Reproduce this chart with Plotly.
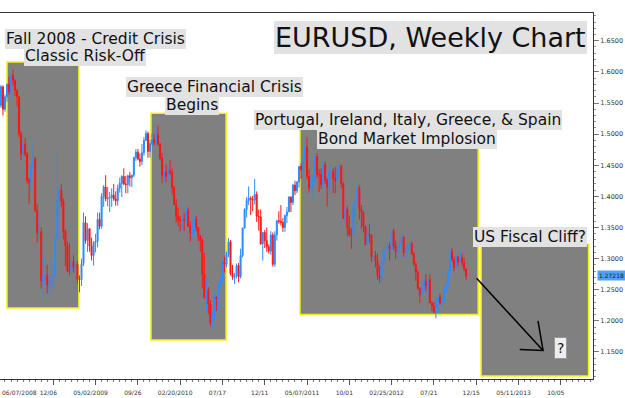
import plotly.graph_objects as go

# ---------------- data (weekly EURUSD) ----------------
first_open = 1.546
closes = [
    1.576,1.540,1.560,1.580,1.568,1.594,1.586,1.570,1.560,1.500,
    1.468,1.484,1.468,1.426,1.423,1.448,1.461,1.377,1.341,1.343,
    1.264,1.272,1.273,1.258,1.259,1.270,1.272,1.332,1.395,1.410,
    1.392,1.344,1.321,1.281,1.280,1.295,1.286,1.291,1.267,1.266,
    1.292,1.358,1.329,1.348,1.320,1.305,1.326,1.328,1.363,1.352,
    1.400,1.415,1.396,1.398,1.398,1.402,1.396,1.393,1.413,1.421,
    1.432,1.420,1.419,1.433,1.430,1.434,1.462,1.471,1.460,1.456,
    1.470,1.490,1.501,1.472,1.485,1.491,1.486,1.499,1.484,1.461,
    1.434,1.439,1.432,1.441,1.438,1.414,1.387,1.368,1.362,1.361,
    1.363,1.362,1.377,1.352,1.341,1.357,1.363,1.350,1.336,1.329,
    1.275,1.239,1.249,1.227,1.197,1.210,1.238,1.236,1.256,1.264,
    1.294,1.291,1.306,1.327,1.276,1.270,1.272,1.289,1.271,1.305,
    1.349,1.379,1.393,1.397,1.395,1.394,1.403,1.368,1.367,1.324,
    1.342,1.329,1.319,1.312,1.338,1.291,1.338,1.361,1.360,1.358,
    1.350,1.369,1.375,1.399,1.390,1.418,1.409,1.423,1.448,1.443,
    1.459,1.480,1.432,1.413,1.415,1.426,1.464,1.435,1.435,1.419,
    1.451,1.426,1.415,1.438,1.440,1.428,1.425,1.439,1.449,1.420,
    1.365,1.379,1.350,1.339,1.339,1.386,1.390,1.414,1.379,1.375,
    1.352,1.323,1.339,1.338,1.303,1.305,1.296,1.272,1.268,1.293,
    1.314,1.315,1.320,1.315,1.345,1.320,1.311,1.317,1.326,1.334,
    1.309,1.316,1.322,1.324,1.308,1.291,1.278,1.252,1.242,1.251,
    1.264,1.257,1.266,1.229,1.224,1.215,1.232,1.238,1.229,1.233,
    1.252,1.258,1.281,1.312,1.298,1.286,1.303,1.295,1.302,1.294,
    1.283,1.272,
]
highs = [
    1.579,1.578,1.564,1.581,1.592,1.596,1.604,1.588,1.572,1.560,
    1.505,1.490,1.494,1.472,1.430,1.450,1.487,1.463,1.388,1.372,
    1.350,1.330,1.300,1.290,1.273,1.300,1.290,1.340,1.472,1.416,
    1.420,1.397,1.347,1.328,1.325,1.300,1.305,1.295,1.296,1.273,
    1.300,1.374,1.368,1.357,1.349,1.334,1.328,1.340,1.374,1.374,
    1.405,1.418,1.434,1.415,1.407,1.413,1.420,1.408,1.419,1.430,
    1.434,1.445,1.433,1.435,1.439,1.435,1.464,1.476,1.476,1.469,
    1.484,1.495,1.506,1.504,1.491,1.501,1.501,1.514,1.514,1.486,
    1.470,1.442,1.451,1.450,1.458,1.445,1.417,1.396,1.382,1.369,
    1.369,1.373,1.383,1.382,1.360,1.358,1.369,1.369,1.351,1.338,
    1.333,1.309,1.267,1.254,1.233,1.216,1.244,1.239,1.259,1.269,
    1.299,1.303,1.311,1.333,1.330,1.290,1.277,1.292,1.293,1.316,
    1.350,1.381,1.399,1.416,1.400,1.401,1.428,1.408,1.379,1.379,
    1.343,1.346,1.350,1.323,1.344,1.342,1.344,1.362,1.376,1.386,
    1.365,1.371,1.383,1.400,1.400,1.420,1.425,1.425,1.449,1.453,
    1.465,1.488,1.494,1.444,1.434,1.434,1.465,1.470,1.444,1.445,
    1.458,1.456,1.429,1.444,1.453,1.445,1.448,1.447,1.455,1.449,
    1.423,1.383,1.385,1.369,1.349,1.390,1.394,1.425,1.418,1.386,
    1.376,1.353,1.355,1.355,1.339,1.313,1.312,1.308,1.288,1.298,
    1.314,1.323,1.332,1.326,1.346,1.348,1.329,1.318,1.330,1.338,
    1.336,1.321,1.323,1.327,1.328,1.310,1.295,1.282,1.254,1.262,
    1.267,1.275,1.269,1.275,1.231,1.230,1.239,1.239,1.244,1.239,
    1.256,1.264,1.282,1.317,1.317,1.303,1.305,1.303,1.314,1.308,
    1.301,1.284,
]
lows = [
    1.542,1.530,1.536,1.552,1.563,1.562,1.578,1.561,1.545,1.495,
    1.458,1.461,1.464,1.420,1.388,1.408,1.440,1.376,1.326,1.329,
    1.252,1.233,1.254,1.244,1.242,1.252,1.245,1.270,1.330,1.376,
    1.383,1.331,1.288,1.278,1.273,1.274,1.278,1.251,1.260,1.246,
    1.256,1.288,1.324,1.311,1.311,1.297,1.289,1.310,1.318,1.347,
    1.348,1.383,1.392,1.384,1.375,1.383,1.393,1.385,1.385,1.406,
    1.399,1.418,1.405,1.405,1.416,1.415,1.431,1.457,1.458,1.448,
    1.450,1.465,1.489,1.462,1.462,1.482,1.482,1.483,1.481,1.458,
    1.421,1.421,1.423,1.426,1.435,1.403,1.386,1.358,1.352,1.344,
    1.345,1.344,1.358,1.351,1.327,1.333,1.339,1.344,1.328,1.311,
    1.252,1.235,1.214,1.211,1.192,1.188,1.202,1.216,1.216,1.252,
    1.262,1.278,1.286,1.302,1.273,1.266,1.259,1.268,1.262,1.268,
    1.302,1.348,1.366,1.386,1.370,1.376,1.387,1.359,1.345,1.322,
    1.297,1.317,1.311,1.308,1.306,1.287,1.287,1.329,1.356,1.353,
    1.343,1.343,1.357,1.375,1.375,1.386,1.402,1.405,1.414,1.428,
    1.432,1.456,1.428,1.406,1.410,1.397,1.420,1.430,1.407,1.412,
    1.412,1.420,1.384,1.405,1.425,1.405,1.405,1.425,1.428,1.414,
    1.364,1.350,1.336,1.335,1.315,1.335,1.365,1.386,1.363,1.348,
    1.342,1.321,1.322,1.326,1.295,1.295,1.286,1.266,1.262,1.262,
    1.290,1.298,1.307,1.297,1.314,1.314,1.300,1.302,1.309,1.320,
    1.303,1.300,1.300,1.312,1.306,1.288,1.264,1.250,1.229,1.241,
    1.247,1.249,1.241,1.229,1.216,1.212,1.204,1.213,1.226,1.224,
    1.231,1.245,1.256,1.274,1.295,1.280,1.282,1.288,1.295,1.288,
    1.280,1.266,
]
opens = [first_open] + closes[:-1]
weeks = list(range(len(closes)))

x_tick_weeks = [26, 47, 68, 89, 110, 131, 152, 173, 194, 215, 236, 257, 278]
x_tick_labels = ["12/06", "05/02/2009", "09/26", "02/20/2010", "07/17", "12/11",
                 "05/07/2011", "10/01", "02/25/2012", "07/21", "12/15",
                 "05/11/2013", "10/05"]
first_label = "06/07/2008"
y_ticks = [1.15, 1.20, 1.25, 1.30, 1.35, 1.40, 1.45, 1.50, 1.55, 1.60, 1.65]
last_price = 1.27218

# shaded event zones: (week0, week1, price_low, price_high)
zones = [
    (3.0, 38.7, 1.2207, 1.6159),
    (74.5, 111.8, 1.1693, 1.5334),
    (148.5, 237.0, 1.2102, 1.5082),
    (238.4, 291.8, 1.1115, 1.3235),
]
# arrow (week, price)
arrow_start = (236.2, 1.2684)
arrow_tip = (269.2, 1.1524)
arrow_arm1 = (266.7, 1.1998)
arrow_arm2 = (257.6, 1.1540)

# ---------------- figure ----------------
W, H = 625, 398
ML, MR, MT, MB = 0, 32, 13, 19
PW, PH = W - ML - MR, H - MT - MB

def px(xp):
    return (xp - ML) / PW

def py(yp):
    return (H - MB - yp) / PH

RED = "#ff1414"
BLUE = "#2a8cff"

fig = go.Figure()
fig.add_trace(go.Candlestick(
    x=weeks, open=opens, high=highs, low=lows, close=closes,
    increasing=dict(line=dict(color=BLUE, width=1), fillcolor=BLUE),
    decreasing=dict(line=dict(color=RED, width=1), fillcolor=RED),
    whiskerwidth=0, showlegend=False, hoverinfo="skip",
))

shapes = []
for (w0, w1, p0, p1) in zones:
    shapes.append(dict(type="rect", xref="x", yref="y", x0=w0, x1=w1, y0=p0, y1=p1,
                       fillcolor="#808080", line=dict(color="#f2f21a", width=1.5),
                       layer="below"))
shapes.append(dict(type="line", xref="x", yref="y",
                   x0=arrow_start[0], y0=arrow_start[1], x1=arrow_tip[0], y1=arrow_tip[1],
                   line=dict(color="black", width=1.5)))
shapes.append(dict(type="path", xref="x", yref="y",
                   path=f"M {arrow_arm1[0]},{arrow_arm1[1]} L {arrow_tip[0]},{arrow_tip[1]} L {arrow_arm2[0]},{arrow_arm2[1]}",
                   line=dict(color="black", width=1.5)))

FONT = "DejaVu Sans"
BOXBG = "#e2e2e2"

def label(text, xc, yc, size=15.5, bg=BOXBG, border=None, color="#111", pad=1):
    return dict(text=text, xref="paper", yref="paper", x=px(xc), y=py(yc),
                xanchor="center", yanchor="middle", showarrow=False,
                font=dict(family=FONT, size=size, color=color),
                bgcolor=bg, borderpad=pad,
                bordercolor=border if border else bg, borderwidth=1 if border else 0)

annotations = [
    label("EURUSD, Weekly Chart", 430, 38, size=27),
    label("Fall 2008 - Credit Crisis", 95, 39),
    label("Classic Risk-Off", 85, 56),
    label("Greece Financial Crisis", 214, 87),
    label("Begins", 192, 105),
    label("Portugal, Ireland, Italy, Greece, & Spain", 408, 120),
    label("Bond Market Implosion", 407, 139),
    label("US Fiscal Cliff?", 530, 237),
    label("?", 560, 348, size=14, bg="#eeeeee", border="#9a9a9a", pad=2),
    dict(text=first_label, xref="paper", yref="paper", x=0, y=0, yshift=-13,
         xanchor="left", yanchor="middle", showarrow=False,
         font=dict(family=FONT, size=6, color="#333")),
    dict(text=f"{last_price:.5f}", xref="paper", yref="y", x=1, y=last_price,
         xanchor="left", yanchor="middle", xshift=4, showarrow=False,
         font=dict(family=FONT, size=6, color="#1a1a1a"), bgcolor="#4aa3ff", borderpad=1),
]

fig.update_layout(
    width=W, height=H,
    margin=dict(l=ML, r=MR, t=MT, b=MB),
    paper_bgcolor="white", plot_bgcolor="white",
    shapes=shapes, annotations=annotations,
    showlegend=False,
    xaxis=dict(
        range=[-0.47, 294.0], rangeslider=dict(visible=False),
        showgrid=False, zeroline=False,
        showline=True, linecolor="#333", linewidth=1, mirror=True,
        tickmode="array", tickvals=x_tick_weeks, ticktext=x_tick_labels,
        ticks="outside", ticklen=5, tickcolor="#555",
        tickfont=dict(family=FONT, size=6, color="#333"),
        ticklabelshift=-5, ticklabelstandoff=3,
        minor=dict(tick0=5, dtick=3, ticks="outside", ticklen=2, tickcolor="#777"),
    ),
    yaxis=dict(
        range=[1.1066, 1.6946], side="right",
        showgrid=False, zeroline=False,
        showline=True, linecolor="#333", linewidth=1,
        tickmode="array", tickvals=y_ticks, tickformat=".4f",
        ticks="outside", ticklen=5, tickcolor="#777",
        tickfont=dict(family=FONT, size=6.5, color="#333"),
        minor=dict(dtick=0.01, ticks="outside", ticklen=2, tickcolor="#999"),
    ),
)

fig.write_html("out.html", config={"displayModeBar": False},
               post_script="document.body.style.margin='0';")
